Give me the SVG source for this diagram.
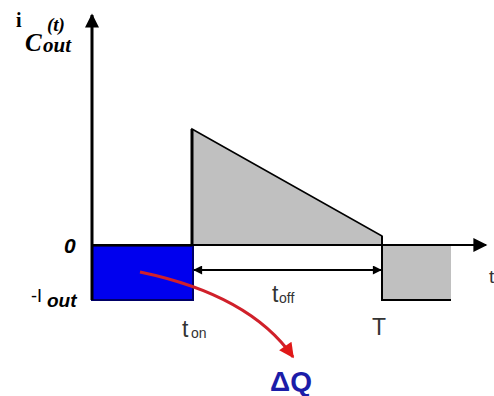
<svg xmlns="http://www.w3.org/2000/svg" width="494" height="396" viewBox="0 0 494 396">
<style>
.ser{font-family:"Liberation Serif","Times New Roman",serif;font-weight:bold;font-style:italic;fill:#000}
.sbi{font-family:"Liberation Sans",Arial,sans-serif;font-weight:bold;font-style:italic;fill:#000}
.lbl{font-family:"Liberation Sans",Arial,sans-serif;fill:#333}
</style>
<defs>
<marker id="ah" viewBox="0 0 10 10" refX="9" refY="5" markerWidth="12" markerHeight="9" markerUnits="userSpaceOnUse" orient="auto-start-reverse">
<path d="M0,0 L10,5 L0,10 z" fill="#000"/>
</marker>
<marker id="ax" viewBox="0 0 10 10" refX="9" refY="5" markerWidth="16" markerHeight="14" markerUnits="userSpaceOnUse" orient="auto">
<path d="M0,0 L10,5 L0,10 z" fill="#000"/>
</marker>
<marker id="ra" viewBox="0 0 10 10" refX="9" refY="5" markerWidth="17" markerHeight="15" markerUnits="userSpaceOnUse" orient="auto">
<path d="M0,0 L10,5 L0,10 z" fill="#e01818"/>
</marker>
</defs>
<rect width="494" height="396" fill="#fff"/>
<g id="shapes">
<polygon id="triangle" points="192,129 382,236 382,245 192,245" fill="#c0c0c0" stroke="#000" stroke-width="1.5"/>
<line x1="192" y1="129" x2="192" y2="246" stroke="#000" stroke-width="3"/>
<rect id="neg-right" x="382" y="245" width="69" height="55" fill="#c0c0c0"/>
<polyline points="382,236 382,300 451,300" fill="none" stroke="#000" stroke-width="2"/>
<rect id="dq-area" x="92" y="246" width="101" height="54" fill="#0000ee" stroke="#000066" stroke-width="2"/>
</g>
<g id="connectors">
<line x1="92" y1="300" x2="92" y2="15" stroke="#000" stroke-width="3" marker-end="url(#ax)"/>
<line x1="92" y1="245" x2="486" y2="245" stroke="#000" stroke-width="2" marker-end="url(#ax)"/>
<line x1="194" y1="270" x2="381" y2="270" stroke="#000" stroke-width="2" marker-start="url(#ah)" marker-end="url(#ah)"/>
<path d="M140,272 Q250,295 293,357" fill="none" stroke="#d0202a" stroke-width="3" marker-end="url(#ra)"/>
</g>
<g id="labels">
<text x="16" y="27" class="ser" font-size="20" style="font-style:normal">i</text>
<text x="47" y="31" class="ser" font-size="19">(t)</text>
<text x="25" y="51" class="ser" font-size="25">C</text>
<text x="43" y="52" class="ser" font-size="21">out</text>
<text x="64" y="253" class="sbi" font-size="21">0</text>
<text x="31" y="302" class="lbl" font-size="18" style="fill:#000">-I</text>
<text x="47" y="307" class="sbi" font-size="19">out</text>
<text x="182" y="337" class="lbl" font-size="23">t</text>
<text x="191" y="338" class="lbl" font-size="14">on</text>
<text x="272" y="302" class="lbl" font-size="23">t</text>
<text x="279" y="303" class="lbl" font-size="14">off</text>
<text x="372" y="335" class="lbl" font-size="23">T</text>
<text x="489" y="283" class="lbl" font-size="19">t</text>
<text x="270" y="391" font-family="'Liberation Sans',Arial,sans-serif" font-weight="bold" font-size="28" fill="#1c1ca8">ΔQ</text>
</g>
</svg>
